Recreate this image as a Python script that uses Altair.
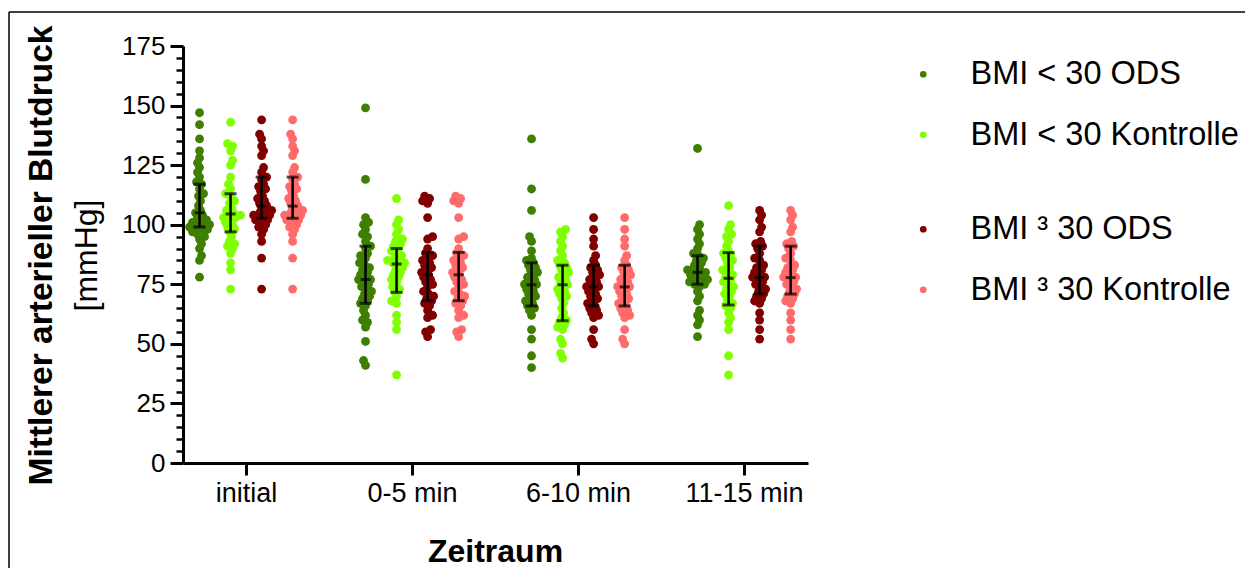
import altair as alt
import pandas as pd

# ---------------- data ----------------
times = ["initial", "0-5 min", "6-10 min", "11-15 min"]
groups = ["BMI < 30 ODS", "BMI < 30 Kontrolle", "BMI ³ 30 ODS", "BMI ³ 30 Kontrolle"]
colors = ["#3f7f00", "#80ff00", "#800000", "#ff6b6b"]

# BMI < 30 ODS
ods_lt30_initial = [147, 142, 136, 131, 128, 126, 124, 122, 120, 118, 117, 115, 113, 112, 110, 108, 106, 105,
                    104, 103, 102, 101, 101, 100, 100, 100, 99, 99, 99, 98, 98, 97, 97, 96, 95, 94, 92, 90, 87, 85, 78]
ods_lt30_0_5 = [149, 119, 103, 101, 100, 98, 96, 95, 93, 91, 90, 88, 87, 86, 84, 83, 82, 81, 80, 79, 78, 77, 77,
                76, 75, 74, 73, 72, 71, 70, 69, 68, 67, 66, 64, 62, 60, 59, 57, 51, 43, 41]
ods_lt30_6_10 = [136, 115, 106, 95, 93, 89, 86, 85, 84, 83, 82, 81, 80, 79, 78, 77, 76, 75, 75, 74, 73, 72, 71,
                 70, 69, 68, 67, 66, 65, 64, 62, 56, 52, 45, 40]
ods_lt30_11_15 = [132, 100, 98, 96, 94, 92, 90, 88, 87, 86, 85, 84, 83, 82, 81, 81, 80, 80, 79, 79, 78, 77, 77,
                  76, 76, 75, 75, 74, 72, 70, 68, 64, 62, 60, 58, 53]

# BMI < 30 Kontrolle
kon_lt30_initial = [143, 134, 133, 131, 127, 125, 120, 117, 115, 113, 112, 110, 109, 107, 106, 105, 104, 104, 103,
                    103, 102, 101, 100, 99, 98, 97, 95, 93, 92, 91, 90, 88, 84, 81, 73]
kon_lt30_0_5 = [111, 102, 100, 98, 96, 94, 93, 92, 91, 90, 89, 88, 87, 86, 85, 85, 84, 84, 83, 82, 81, 80, 79,
                78, 77, 76, 74, 73, 72, 70, 68, 67, 62, 59, 56, 37]
kon_lt30_6_10 = [98, 97, 95, 93, 91, 89, 87, 85, 84, 83, 82, 81, 80, 79, 78, 77, 76, 75, 74, 73, 72, 71, 70, 69,
                 67, 65, 63, 61, 60, 59, 58, 57, 56, 52, 50, 46, 44]
kon_lt30_11_15 = [108, 100, 98, 96, 95, 93, 91, 89, 88, 87, 86, 85, 84, 82, 81, 80, 79, 78, 77, 76, 75, 74, 73,
                  72, 71, 70, 68, 67, 66, 65, 63, 61, 59, 56, 45, 37]

# BMI >= 30 ODS
ods_ge30_initial = [144, 138, 136, 133, 131, 129, 124, 122, 120, 119, 117, 116, 115, 114, 112, 111, 110, 109, 108,
                    107, 106, 105, 105, 104, 104, 103, 103, 102, 102, 101, 100, 99, 98, 96, 93, 86, 73]
ods_ge30_0_5 = [112, 111, 110, 109, 103, 95, 94, 90, 88, 87, 86, 85, 84, 83, 82, 81, 80, 79, 78, 77, 76, 75, 74,
                72, 71, 70, 69, 68, 67, 66, 64, 62, 61, 56, 55, 53]
ods_ge30_6_10 = [103, 98, 94, 91, 87, 85, 83, 82, 81, 80, 79, 78, 77, 76, 75, 74, 74, 73, 72, 71, 70, 69, 68, 67,
                 66, 65, 64, 63, 62, 61, 56, 52, 50]
ods_ge30_11_15 = [106, 104, 102, 99, 97, 93, 92, 91, 90, 88, 86, 85, 83, 82, 81, 80, 79, 78, 78, 77, 76, 75, 74,
                  73, 72, 71, 70, 69, 68, 67, 63, 60, 56, 52]

# BMI >= 30 Kontrolle (same readings as ODS in the picture)
kon_ge30_initial = list(ods_ge30_initial)
kon_ge30_0_5 = list(ods_ge30_0_5)
kon_ge30_6_10 = list(ods_ge30_6_10)
kon_ge30_11_15 = list(ods_ge30_11_15)

# error bars: median, lower and upper (per time, per group)
err_median = [[105, 104.5, 107.8, 107.8], [77, 83.5, 79, 79], [74.8, 74.8, 73.9, 73.9], [80, 77.5, 77.8, 77.8]]
err_low = [[99, 97, 102.7, 102.7], [67, 71.6, 68.1, 68.1], [65.9, 59.7, 65.9, 65.9], [75, 66.3, 70.9, 70.9]]
err_high = [[117, 113, 120, 120], [91, 90, 88.4, 88.4], [84, 83, 83, 83], [87, 88.3, 91, 91]]

series = [
    [ods_lt30_initial, kon_lt30_initial, ods_ge30_initial, kon_ge30_initial],
    [ods_lt30_0_5, kon_lt30_0_5, ods_ge30_0_5, kon_ge30_0_5],
    [ods_lt30_6_10, kon_lt30_6_10, ods_ge30_6_10, kon_ge30_6_10],
    [ods_lt30_11_15, kon_lt30_11_15, ods_ge30_11_15, kon_ge30_11_15],
]

# ---------------- layout helpers ----------------
W, H = 625, 417
XDOM = [-0.38, 3.385]
YDOM = [0, 175]
XPX = W / (XDOM[1] - XDOM[0])
YPX = H / (YDOM[1] - YDOM[0])
GROUP_STEP = 0.187
goff = [-1.5 * GROUP_STEP, -0.5 * GROUP_STEP, 0.5 * GROUP_STEP, 1.5 * GROUP_STEP]


def swarm(vals, d=5.0, step=1.0, maxoff=10):
    """deterministic beeswarm offsets (pixels) computed from the values"""
    placed = []
    offs = [0.0] * len(vals)
    order = sorted(range(len(vals)), key=lambda i: vals[i])
    for n, i in enumerate(order):
        py = vals[i] * YPX
        best = None
        k = 0
        while best is None and k * step <= maxoff:
            signs = [1] if k == 0 else ([1, -1] if n % 2 == 0 else [-1, 1])
            for s in signs:
                ox = s * k * step
                if all((ox - qx) ** 2 + (py - qy) ** 2 >= d * d for qx, qy in placed):
                    best = ox
                    break
            k += 1
        if best is None:
            best = 0.0
        placed.append((best, py))
        offs[i] = best
    return offs


rows = []
for t, per_group in enumerate(series):
    for g, vals in enumerate(per_group):
        offs = swarm(vals)
        for v, o in zip(vals, offs):
            rows.append({"time": times[t], "group": groups[g], "value": v,
                         "xpos": t + goff[g] + o / XPX})
pts = pd.DataFrame(rows)

err_rows = []
for t in range(4):
    for g in range(4):
        err_rows.append({"xpos": t + goff[g], "med": err_median[t][g],
                         "lo": err_low[t][g], "hi": err_high[t][g]})
err = pd.DataFrame(err_rows)

FONT = "Liberation Sans"
xscale = alt.Scale(domain=XDOM, nice=False, zero=False)
yscale = alt.Scale(domain=YDOM, nice=False, zero=True)

label_expr = "[" + ",".join("'%s'" % t for t in times) + "][datum.value]"
x_axis = alt.Axis(values=[0, 1, 2, 3], labelExpr=label_expr, tickSize=12, tickWidth=3, domainWidth=3,
                  labelFontSize=27, labelPadding=5, title=None, grid=False, labelFont=FONT,
                  labelColor="black", tickColor="black", domainColor="black")
y_axis = alt.Axis(values=list(range(0, 176, 25)), tickSize=13, tickWidth=3, domainWidth=3,
                  labelFontSize=26, labelPadding=5, title=None, grid=False, labelFont=FONT,
                  labelColor="black", tickColor="black", domainColor="black", orient="left")
y_minor = alt.Axis(values=[v for v in range(0, 176, 5) if v % 25], tickSize=7, tickWidth=2.5,
                   labels=False, domain=False, grid=False, title=None, tickColor="black", orient="left")

legend_common = dict(orient="none", title=None, labelFontSize=32.5, labelFont=FONT, labelColor="black",
                     symbolType="circle", symbolSize=45, symbolStrokeWidth=0, rowPadding=27.5,
                     labelOffset=31, padding=0, labelLimit=0)

PT_SIZE = 78

pts_a = alt.Chart(pts).transform_filter(
    alt.FieldOneOfPredicate(field="group", oneOf=groups[:2])
).mark_circle(size=PT_SIZE, opacity=1).encode(
    x=alt.X("xpos:Q", scale=xscale, axis=x_axis),
    y=alt.Y("value:Q", scale=yscale, axis=y_axis),
    color=alt.Color("group:N", scale=alt.Scale(domain=groups[:2], range=colors[:2]),
                    legend=alt.Legend(legendX=724, legendY=12, **legend_common)),
)

pts_b = alt.Chart(pts).transform_filter(
    alt.FieldOneOfPredicate(field="group", oneOf=groups[2:])
).mark_circle(size=PT_SIZE, opacity=1).encode(
    x=alt.X("xpos:Q", scale=xscale, axis=None),
    y=alt.Y("value:Q", scale=yscale, axis=None),
    color=alt.Color("group:N", scale=alt.Scale(domain=groups[2:], range=colors[2:]),
                    legend=alt.Legend(legendX=724, legendY=167, **legend_common)),
)

minor = alt.Chart(pts).mark_point(opacity=0).encode(
    x=alt.X("xpos:Q", scale=xscale, axis=None),
    y=alt.Y("value:Q", scale=yscale, axis=y_minor),
)

ebase = alt.Chart(err)
e_rule = ebase.mark_rule(color="black", strokeWidth=2.5).encode(
    x=alt.X("xpos:Q", scale=xscale, axis=None),
    y=alt.Y("lo:Q", scale=yscale, axis=None), y2="hi:Q")
e_lo = ebase.mark_tick(color="black", orient="horizontal", size=12, thickness=3).encode(
    x=alt.X("xpos:Q", scale=xscale, axis=None), y=alt.Y("lo:Q", scale=yscale, axis=None))
e_hi = ebase.mark_tick(color="black", orient="horizontal", size=12, thickness=3).encode(
    x=alt.X("xpos:Q", scale=xscale, axis=None), y=alt.Y("hi:Q", scale=yscale, axis=None))
e_med = ebase.mark_tick(color="black", orient="horizontal", size=10, thickness=3).encode(
    x=alt.X("xpos:Q", scale=xscale, axis=None), y=alt.Y("med:Q", scale=yscale, axis=None))

one = pd.DataFrame({"t": ["Mittlerer arterieller Blutdruck"], "u": ["[mmHg]"], "z": ["Zeitraum"]})
ytitle = alt.Chart(one).mark_text(angle=270, fontSize=33.5, fontWeight="bold", font=FONT, color="black",
                                  align="center", baseline="middle").encode(
    text="t:N", x=alt.value(-141), y=alt.value(H / 2 + 1))
yunit = alt.Chart(one).mark_text(angle=270, fontSize=32, font=FONT, color="black",
                                 align="center", baseline="middle").encode(
    text="u:N", x=alt.value(-96), y=alt.value(H / 2 + 1))
xtitle = alt.Chart(one).mark_text(fontSize=32, fontWeight="bold", font=FONT, color="black",
                                  align="center", baseline="middle").encode(
    text="z:N", x=alt.value(W / 2), y=alt.value(506))

frame_left = alt.Chart(one).mark_rule(color="black", strokeWidth=1.5).encode(
    x=alt.value(-174), y=alt.value(-34), y2=alt.value(600))
frame_top = alt.Chart(one).mark_rule(color="black", strokeWidth=1.5).encode(
    x=alt.value(-174), x2=alt.value(1200), y=alt.value(-34))

chart = alt.layer(
    minor, pts_a, pts_b, e_rule, e_lo, e_hi, e_med, ytitle, yunit, xtitle, frame_left, frame_top
).resolve_scale(color="independent").resolve_axis(x="independent", y="independent").properties(
    width=W, height=H,
    padding={"left": 175, "top": 38, "right": 437, "bottom": 105},
    autosize=alt.AutoSizeParams(type="none"),
).configure_view(strokeWidth=0)

chart.save("out.html", embed_options={"renderer": "svg", "actions": False})
